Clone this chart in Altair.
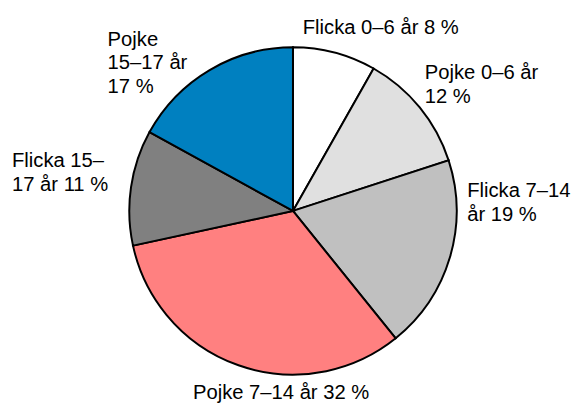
import altair as alt
import pandas as pd

categories = ["Flicka 0–6 år", "Pojke 0–6 år", "Flicka 7–14 år",
              "Pojke 7–14 år", "Flicka 15–17 år", "Pojke 15–17 år"]
shares = [8.2, 11.8, 19.2, 32.4, 11.4, 17.0]
labels = ["Flicka 0–6 år 8 %", "Pojke 0–6 år\n12 %", "Flicka 7–14\når 19 %",
          "Pojke 7–14 år 32 %", "Flicka 15–\n17 år 11 %", "Pojke\n15–17 år\n17 %"]
colors = ["#ffffff", "#e0e0e0", "#c0c0c0", "#ff8080", "#808080", "#0080c0"]

df = pd.DataFrame({"category": categories, "share": shares,
                   "label": labels, "order": list(range(len(categories)))})

R = 166
theta = alt.Theta("share:Q", stack=True)
order = alt.Order("order:Q")

pie = alt.Chart(df).mark_arc(outerRadius=R, stroke="black", strokeWidth=2).encode(
    theta=theta,
    order=order,
    color=alt.Color("category:N", scale=alt.Scale(domain=categories, range=colors), legend=None),
)

# label offsets (dx, dy) from the slice's mid-angle point on the rim
offsets = [(-32.4, -18.8), (5.1, -28.8), (17.6, -61.1),
           (-46.2, 34.5), (-120.7, -20.3), (-103.5, -24.8)]

layers = [pie]
for cat, (dx, dy) in zip(categories, offsets):
    layers.append(
        alt.Chart(df).mark_text(
            align="left", baseline="alphabetic", dx=dx, dy=dy,
            fontSize=20.5, font="Liberation Sans", lineBreak="\n",
            lineHeight=24, color="black",
        ).encode(
            theta=theta,
            order=order,
            radius=alt.value(R),
            text=alt.condition(alt.datum.category == cat, "label:N", alt.value("")),
        )
    )

chart = alt.layer(*layers).properties(
    width=560, height=384,
    padding={"left": 9, "top": 11, "right": 3, "bottom": 2},
    autosize=alt.AutoSizeParams(type="none"),
    background="white",
).configure_view(stroke=None)

chart.save("out.html", embed_options={"renderer": "svg", "actions": False})
